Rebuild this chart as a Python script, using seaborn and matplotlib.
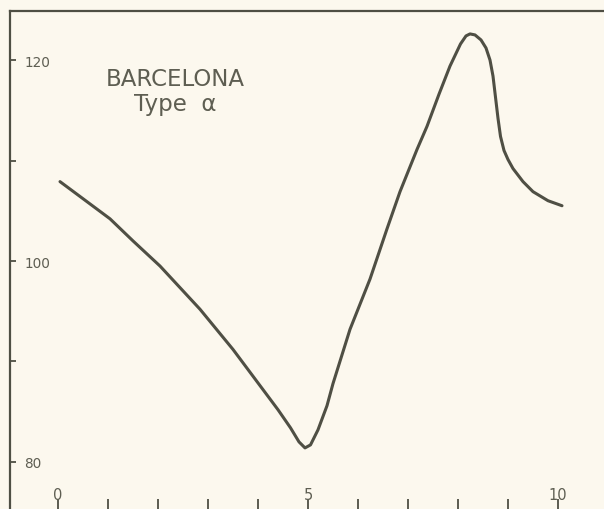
import matplotlib
matplotlib.use("Agg")
import matplotlib.pyplot as plt
import seaborn as sns

# curve
x_vals = [0.04, 0.5, 1.04, 1.5, 2.04, 2.84, 3.5, 4.04, 4.4, 4.65, 4.82, 4.94, 5.05,
          5.2, 5.38, 5.5, 5.84, 6.24, 6.58, 6.84, 7.18, 7.38, 7.62, 7.84, 8.05,
          8.16, 8.24, 8.34, 8.46, 8.56, 8.64, 8.7, 8.75, 8.8, 8.85, 8.92, 9.0,
          9.1, 9.3, 9.5, 9.8, 10.08]
y_vals = [107.9, 106.2, 104.2, 102.0, 99.5, 95.2, 91.2, 87.6, 85.2, 83.4, 82.0, 81.4, 81.7,
          83.2, 85.6, 87.8, 93.2, 98.2, 103.2, 106.9, 111.1, 113.4, 116.6, 119.4, 121.6,
          122.4, 122.6, 122.5, 122.0, 121.2, 120.0, 118.4, 116.3, 114.2, 112.4, 111.0, 110.1,
          109.2, 107.9, 106.9, 106.0, 105.5]

y_ticks = [80, 90, 100, 110, 120]
y_labels = ["80", "", "100", "", "120"]
x_ticks = [0, 5, 10]
x_labels = ["0", "5", "10"]
x_minor = [1, 2, 3, 4, 6, 7, 8, 9]

title_text = "BARCELONA\nType  α"

paper = "#fcf8ee"
ink = "#4f4f44"
text_ink = "#5e5e52"

sns.set_theme(style="white")
plt.rcParams["font.family"] = ["DejaVu Sans"]

fig = plt.figure(figsize=(6.04, 5.10), dpi=100, facecolor=paper)
ax = fig.add_axes([10 / 604, 0, 594 / 604, 498 / 510])
ax.set_facecolor(paper)

sns.lineplot(x=x_vals, y=y_vals, sort=False, estimator=None, ax=ax,
             color=ink, linewidth=2.2, solid_capstyle="round", solid_joinstyle="round")

ax.set_xlim(-0.96, 10.92)
ax.set_ylim(75.32, 124.88)

for side in ["right", "bottom"]:
    ax.spines[side].set_visible(False)
for side in ["left", "top"]:
    ax.spines[side].set_color(ink)
    ax.spines[side].set_linewidth(1.6)

ax.set_yticks(y_ticks)
ax.set_yticklabels(y_labels)
ax.tick_params(axis="y", direction="in", length=4.5, width=1.3, color=ink,
               labelsize=9.8, labelcolor=text_ink, pad=-10.5, left=True)
for lab in ax.get_yticklabels():
    lab.set_horizontalalignment("left")

ax.set_xticks(x_ticks)
ax.set_xticklabels(x_labels)
ax.set_xticks(x_minor, minor=True)
ax.tick_params(axis="x", which="both", direction="in", length=7, width=1.3,
               color=ink, bottom=True)
ax.tick_params(axis="x", which="major", labelsize=10.5, labelcolor=text_ink, pad=-15.5)

ax.text(0.278, 0.839, title_text, transform=ax.transAxes, ha="center", va="center",
        fontsize=16.5, color=text_ink, linespacing=1.1)

ax.grid(False)
ax.set_xlabel("")
ax.set_ylabel("")

fig.savefig("out.png", dpi=100, facecolor=paper)
